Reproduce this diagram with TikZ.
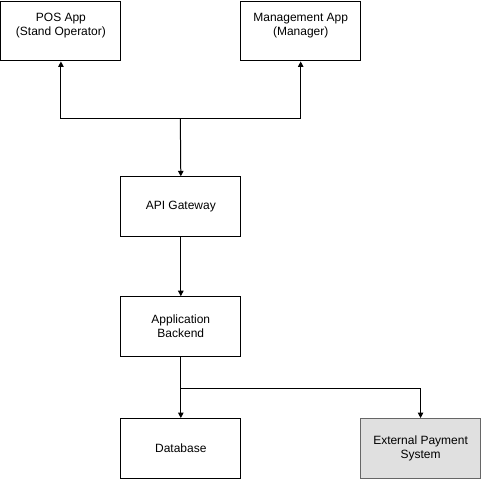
\documentclass[tikz,border=0pt]{standalone}
\usepackage{fontspec}
\setmainfont{Liberation Sans}
\usetikzlibrary{arrows.meta}
\begin{document}
\begin{tikzpicture}[x=1pt,y=-1pt,
  box/.style={draw=black, line width=1pt, minimum width=120pt, minimum height=60pt, inner sep=0pt, align=center, font=\fontsize{12}{14}\selectfont, anchor=north west},
  extbox/.style={box, draw=black!60, fill=black!12},
  conn/.style={line width=1pt},
  arr/.style={conn, -{Triangle[width=5.5pt,length=5.5pt]}}
]
\useasboundingbox (0,0) rectangle (481.5,480);
\node[box] (pos) at (0.5,0.5) {POS App\\(Stand Operator)\\\mbox{}};
\node[box] (mgmt) at (240.5,0.5) {Management App\\(Manager)\\\mbox{}};
\node[box] (api) at (120.5,176.5) {API Gateway};
\node[box] (backend) at (120.5,296.5) {Application\\Backend};
\node[box] (db) at (120.5,418.5) {Database};
\node[extbox] (ext) at (360.5,418.5) {External Payment\\System};
\coordinate (j1) at (180.5,118.5);
\coordinate (j2) at (180.5,388.5);
\draw[arr] (j1) -| (pos.south);
\draw[arr] (j1) -| (mgmt.south);
\draw[arr] (j1) -- (api.north);
\draw[arr] (api.south) -- (backend.north);
\draw[arr] (backend.south) -- (db.north);
\draw[arr] (j2) -| (ext.north);
\end{tikzpicture}
\end{document}
